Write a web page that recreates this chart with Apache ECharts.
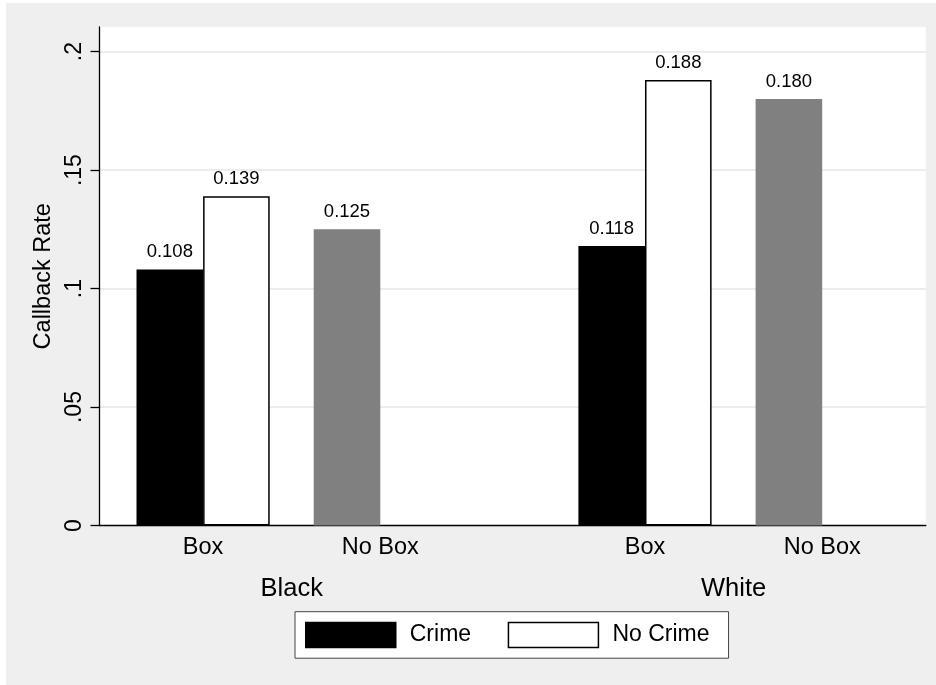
<!DOCTYPE html>
<html>
<head>
<meta charset="utf-8">
<script src="https://cdn.jsdelivr.net/npm/echarts@6/dist/echarts.min.js"></script>
<style>
html, body { margin: 0; padding: 0; background: #ffffff; }
#chart { position: absolute; left: 6px; top: 3px; width: 930px; height: 682px; background: #efefef; }
</style>
</head>
<body>
<div id="chart"></div>
<script>
// ---- data ----
const races = ['Black', 'White'];
const boxCats = ['Box', 'No Box'];
const seriesNames = ['Crime', 'No Crime'];
const crime = [0.108, 0.118];     // Box, Crime
const noCrime = [0.139, 0.188];   // Box, No Crime
const noBox = [0.125, 0.180];     // No Box
const yTicks = [0, 0.05, 0.1, 0.15, 0.2];
const yTickLabels = ['0', '.05', '.1', '.15', '.2'];
const yTitle = 'Callback Rate';

// ---- layout (pixel-ish units along the x axis) ----
const BAR_W = 66.6, LEFT_PAD = 37, PAIR_GAP = 44, GROUP_GAP = 131.5;
const GROUP_W = 4 * BAR_W + PAIR_GAP;
const X_MAX = 2 * LEFT_PAD + 2 * GROUP_W + GROUP_GAP;
const Y_MAX = 0.2104;
const FONT = "'Liberation Sans', Arial, Helvetica, sans-serif";

function groupStart(g) { return LEFT_PAD + g * (GROUP_W + GROUP_GAP); }
function slotCenter(g, p, s) { return groupStart(g) + p * (2 * BAR_W + PAIR_GAP) + (s + 0.5) * BAR_W; }
function pairCenter(g, p) { return groupStart(g) + p * (2 * BAR_W + PAIR_GAP) + BAR_W; }
function groupCenter(g) { return groupStart(g) + GROUP_W / 2; }

const boxLabelPos = [], boxLabelText = [];
races.forEach((r, g) => boxCats.forEach((b, p) => { boxLabelPos.push(pairCenter(g, p)); boxLabelText.push(b); }));
const raceLabelPos = races.map((r, g) => groupCenter(g));

function lookup(pos, txt) {
  return function (v) {
    for (let i = 0; i < pos.length; i++) if (Math.abs(pos[i] - v) < 0.5) return txt[i];
    return '';
  };
}
function yLabel(v) {
  for (let i = 0; i < yTicks.length; i++) if (Math.abs(yTicks[i] - v) < 1e-9) return yTickLabels[i];
  return '';
}

const crimeData = races.map((r, g) => [slotCenter(g, 0, 0), crime[g]]);
const noCrimeData = races.map((r, g) => [slotCenter(g, 0, 1), noCrime[g]]);
const noBoxData = races.map((r, g) => [slotCenter(g, 1, 0), noBox[g]]);

const barLabel = {
  show: true, position: 'top', distance: 8,
  fontFamily: FONT, fontSize: 18.5, color: '#000',
  formatter: p => p.value[1].toFixed(3)
};

const chart = echarts.init(document.getElementById('chart'), null, { renderer: 'canvas' });
chart.setOption({
  animation: false,
  backgroundColor: '#efefef',
  textStyle: { fontFamily: FONT },
  grid: { left: 93.5, top: 24, width: X_MAX, height: 498.5, show: true, backgroundColor: '#ffffff', borderWidth: 0 },
  legend: {
    data: seriesNames,
    left: 289, top: 608.7,
    orient: 'horizontal',
    icon: 'rect',
    itemWidth: 90, itemHeight: 25, itemGap: 36.6,
    padding: [10, 19, 10, 10],
    backgroundColor: '#ffffff',
    borderColor: '#444444', borderWidth: 1,
    itemStyle: { borderWidth: 1.5 },
    textStyle: { fontFamily: FONT, fontSize: 23, color: '#000', padding: [0, 0, 0, 9] }
  },
  xAxis: [
    {
      type: 'value', min: 0, max: X_MAX, position: 'bottom',
      axisLine: { show: true, onZero: false, lineStyle: { color: '#000', width: 1.3 } },
      axisTick: { show: false },
      splitLine: { show: false },
      axisLabel: {
        customValues: boxLabelPos, formatter: lookup(boxLabelPos, boxLabelText),
        margin: 10, fontFamily: FONT, fontSize: 23.5, color: '#000'
      }
    },
    {
      type: 'value', min: 0, max: X_MAX, position: 'bottom',
      axisLine: { show: false }, axisTick: { show: false }, splitLine: { show: false },
      axisLabel: {
        customValues: raceLabelPos, formatter: lookup(raceLabelPos, races),
        margin: 50, fontFamily: FONT, fontSize: 25.5, color: '#000'
      }
    }
  ],
  yAxis: {
    type: 'value', min: 0, max: Y_MAX,
    name: yTitle, nameLocation: 'middle', nameGap: 37,
    nameTextStyle: { fontFamily: FONT, fontSize: 23.5, color: '#000' },
    axisLine: { show: true, onZero: false, lineStyle: { color: '#000', width: 1.3 } },
    axisTick: { show: true, length: 9, customValues: yTicks, lineStyle: { color: '#000', width: 1.3 } },
    axisLabel: {
      customValues: yTicks, formatter: yLabel, rotate: 90, margin: 13,
      fontFamily: FONT, fontSize: 23, color: '#000'
    },
    splitLine: { show: true, lineStyle: { color: '#e6e6e6', width: 1.5 } }
  },
  series: [
    {
      name: seriesNames[0], type: 'bar', xAxisIndex: 0, barWidth: BAR_W, barGap: '-100%',
      itemStyle: { color: '#000000', borderColor: '#000000', borderWidth: 0 },
      label: barLabel, data: crimeData
    },
    {
      name: seriesNames[1], type: 'bar', xAxisIndex: 0, barWidth: BAR_W, barGap: '-100%',
      itemStyle: { color: '#ffffff', borderColor: '#000000', borderWidth: 1.5 },
      label: barLabel, data: noCrimeData
    },
    {
      name: boxCats[1], type: 'bar', xAxisIndex: 0, barWidth: BAR_W, barGap: '-100%',
      itemStyle: { color: '#808080', borderWidth: 0 },
      label: barLabel, data: noBoxData
    }
  ]
});
</script>
</body>
</html>
